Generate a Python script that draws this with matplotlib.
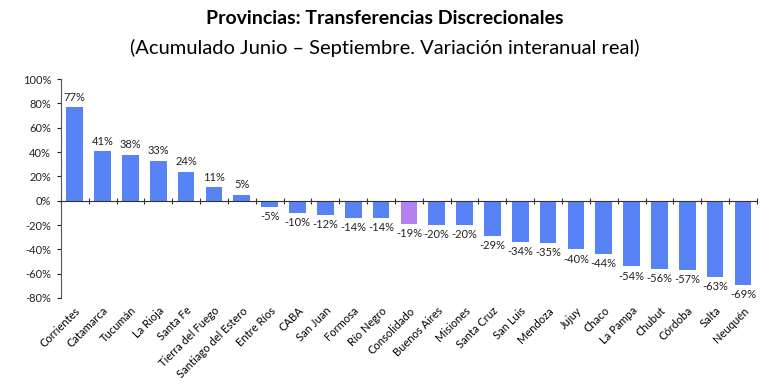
import matplotlib
matplotlib.use("Agg")
import matplotlib.pyplot as plt
from matplotlib.ticker import FixedLocator, NullFormatter

plt.rcParams['font.family'] = ['Lato', 'DejaVu Sans']

categories = ["Corrientes", "Catamarca", "Tucumán", "La Rioja", "Santa Fe",
              "Tierra del Fuego", "Santiago del Estero", "Entre Ríos", "CABA",
              "San Juan", "Formosa", "Río Negro", "Consolidado", "Buenos Aires",
              "Misiones", "Santa Cruz", "San Luis", "Mendoza", "Jujuy", "Chaco",
              "La Pampa", "Chubut", "Córdoba", "Salta", "Neuquén"]
values = [77, 41, 38, 33, 24, 11, 5, -5, -10, -12, -14, -14, -19, -20, -20,
          -29, -34, -35, -40, -44, -54, -56, -57, -63, -69]
highlight = "Consolidado"
yticks = [-80, -60, -40, -20, 0, 20, 40, 60, 80, 100]

fig = plt.figure(figsize=(7.7, 3.86), dpi=100)
ax = fig.add_axes([0.079, 0.228, 0.904, 0.567])

x = list(range(len(categories)))
colors = ["#B382F0" if c == highlight else "#5783F6" for c in categories]
bars = ax.bar(x, values, width=0.6, color=colors, zorder=2)
ax.bar_label(bars, labels=[f"{v}%" for v in values], padding=3, fontsize=8,
             color="#222222")

ax.set_xlim(-0.5, len(categories) - 0.5)
ax.set_ylim(-80, 100)
ax.set_yticks(yticks)
ax.set_yticklabels([f"{t}%" for t in yticks], fontsize=8)
ax.tick_params(axis='y', length=3, width=0.8, pad=4, colors="#222222")

for s in ['top', 'right']:
    ax.spines[s].set_visible(False)
ax.spines['left'].set_color("#555555")
ax.spines['bottom'].set_position(('data', 0))
ax.spines['bottom'].set_color("#333333")
ax.xaxis.set_major_locator(FixedLocator([i - 0.5 for i in range(len(categories) + 1)]))
ax.xaxis.set_major_formatter(NullFormatter())
ax.tick_params(axis='x', direction='inout', length=5, width=0.8, colors="#333333")

sec = ax.secondary_xaxis(0.0)
sec.set_xticks(x)
sec.set_xticklabels(categories, rotation=45, ha='right', rotation_mode='anchor',
                    fontsize=8)
sec.tick_params(length=0, pad=5)
sec.spines['bottom'].set_visible(False)

fig.text(0.5, 0.952, "Provincias: Transferencias Discrecionales", ha='center',
         va='center', fontsize=14, fontweight='bold')
fig.text(0.5, 0.877, "(Acumulado Junio – Septiembre. Variación interanual real)",
         ha='center', va='center', fontsize=14.5)

fig.savefig("out.png", dpi=100, facecolor="white")
